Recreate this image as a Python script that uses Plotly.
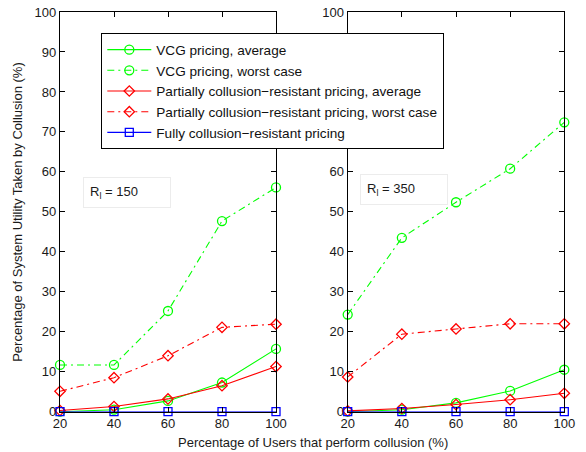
import plotly.graph_objects as go

x_users = [20, 40, 60, 80, 100]

# Left panel (R_l = 150)
vcg_avg_150 = [0.0, 0.5, 2.7, 7.3, 15.7]
vcg_worst_150 = [11.7, 11.7, 25.2, 47.7, 56.1]
partial_avg_150 = [0.3, 1.3, 3.2, 6.5, 11.3]
partial_worst_150 = [5.1, 8.5, 14.0, 21.1, 21.9]
fully_150 = [0, 0, 0, 0, 0]

# Right panel (R_l = 350)
vcg_avg_350 = [0.0, 0.5, 2.2, 5.2, 10.5]
vcg_worst_350 = [24.3, 43.5, 52.4, 60.8, 72.4]
partial_avg_350 = [0.2, 0.8, 1.8, 3.0, 4.6]
partial_worst_350 = [8.7, 19.4, 20.7, 22.0, 22.0]
fully_350 = [0, 0, 0, 0, 0]

names = [
    "VCG pricing, average",
    "VCG pricing, worst case",
    "Partially collusion\u2212resistant pricing, average",
    "Partially collusion\u2212resistant pricing, worst case",
    "Fully collusion\u2212resistant pricing",
]
colors = ["#00ff00", "#00ff00", "#ff0000", "#ff0000", "#0000ff"]
symbols = ["circle-open", "circle-open", "diamond-open", "diamond-open", "square-open"]
dashdot = "7px,4px,2px,4px"
dashes = ["solid", dashdot, "solid", dashdot, "solid"]
msizes = [9, 9, 8, 8, 8]

W, H = 586, 452
fig = go.Figure()

panels = [
    ("x", "y", [vcg_avg_150, vcg_worst_150, partial_avg_150, partial_worst_150, fully_150]),
    ("x2", "y2", [vcg_avg_350, vcg_worst_350, partial_avg_350, partial_worst_350, fully_350]),
]
for pi, (xa, ya, series) in enumerate(panels):
    for i, s in enumerate(series):
        fig.add_trace(go.Scatter(
            x=x_users, y=s, mode="lines+markers", name=names[i],
            xaxis=xa, yaxis=ya, showlegend=(pi == 0), cliponaxis=False,
            line=dict(color=colors[i], width=1.1, dash=dashes[i]),
            marker=dict(symbol=symbols[i], size=msizes[i], color=colors[i],
                        line=dict(color=colors[i], width=1.3)),
        ))

axis_common = dict(
    showline=True, mirror="ticks", linecolor="black", linewidth=1.2,
    ticks="inside", ticklen=5, tickcolor="black", showgrid=False, zeroline=False,
    automargin=False,
    tickfont=dict(family="Liberation Sans, Arial", size=13, color="#1a1a1a"),
)
y0 = (H - 411.7) / H
y1 = (H - 12) / H
fig.update_layout(
    width=W, height=H,
    margin=dict(l=0, r=0, t=0, b=0, autoexpand=False),
    paper_bgcolor="white", plot_bgcolor="white",
    font=dict(family="Liberation Sans, Arial", size=13, color="#1a1a1a"),
    xaxis=dict(domain=[60 / W, 276 / W], range=[20, 100], tickvals=x_users, **axis_common),
    yaxis=dict(domain=[y0, y1], range=[0, 100], tickvals=list(range(0, 101, 10)), **axis_common),
    xaxis2=dict(domain=[347.7 / W, 564.3 / W], range=[20, 100], tickvals=x_users, anchor="y2", **axis_common),
    yaxis2=dict(domain=[y0, y1], range=[0, 100], tickvals=list(range(0, 101, 10)), anchor="x2", **axis_common),
    legend=dict(
        x=101 / W, y=1 - 33 / H, xanchor="left", yanchor="top",
        bgcolor="white", bordercolor="black", borderwidth=1.3,
        font=dict(family="Liberation Sans, Arial", size=13.6, color="#111"),
        tracegroupgap=0, itemwidth=44,
    ),
    annotations=[
        dict(text="R<sub>l</sub> = 150", x=83 / W, y=1 - 177 / H, xref="paper", yref="paper",
             xanchor="left", yanchor="top", showarrow=False, align="left",
             width=74, bordercolor="#ececec", borderwidth=1, borderpad=6, bgcolor="white",
             font=dict(size=13)),
        dict(text="R<sub>l</sub> = 350", x=360 / W, y=1 - 174 / H, xref="paper", yref="paper",
             xanchor="left", yanchor="top", showarrow=False, align="left",
             width=74, bordercolor="#ececec", borderwidth=1, borderpad=6, bgcolor="white",
             font=dict(size=13)),
        dict(text="Percentage of System Utility Taken by Collusion (%)", x=18 / W, y=(y0 + y1) / 2,
             xref="paper", yref="paper", textangle=-90, showarrow=False,
             xanchor="center", yanchor="middle", font=dict(size=13)),
        dict(text="Percentage of Users that perform collusion (%)", x=313 / W, y=1 - 442 / H,
             xref="paper", yref="paper", showarrow=False,
             xanchor="center", yanchor="middle", font=dict(size=13)),
    ],
)

fig.write_html("out.html", config={"displayModeBar": False},
               post_script="document.body.style.margin='0';")
